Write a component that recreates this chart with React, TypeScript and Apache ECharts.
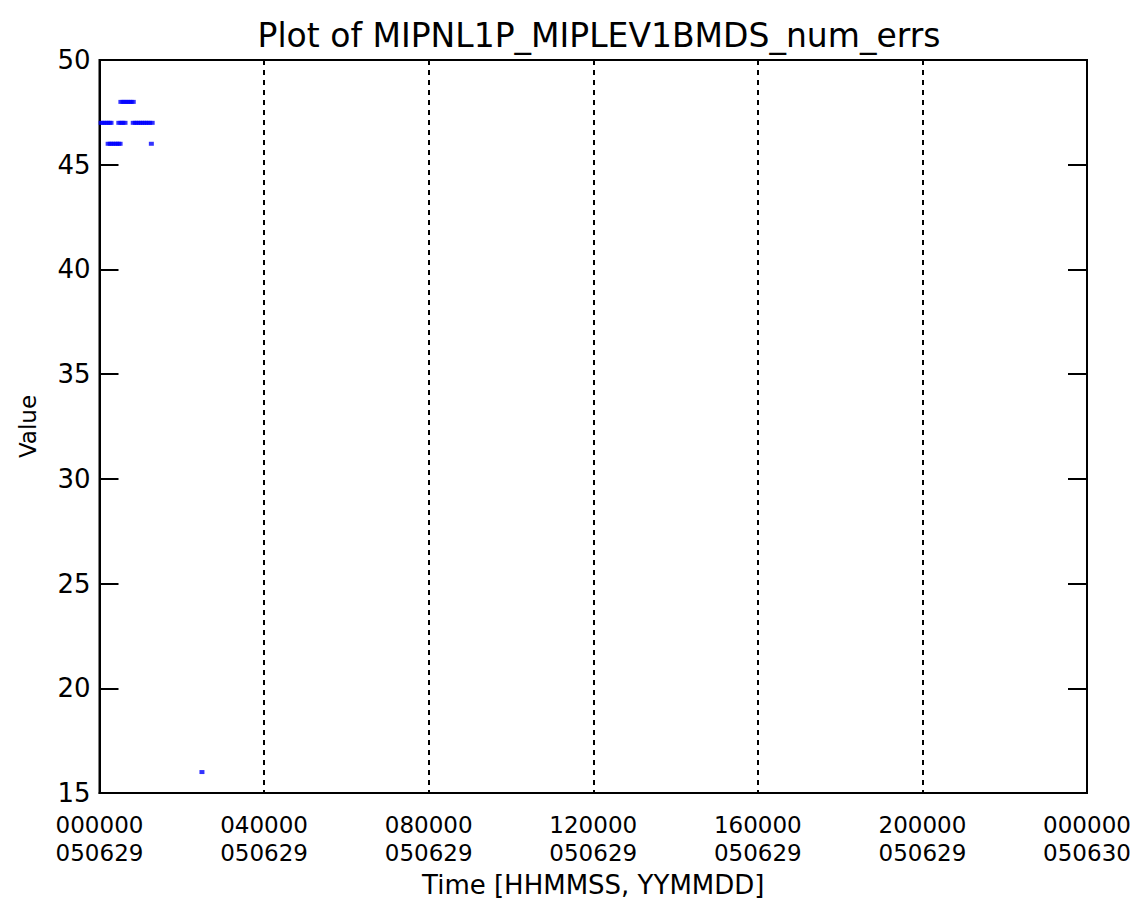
import React, { useEffect, useRef } from "react";
import * as echarts from "echarts";

const TITLE = "Plot of MIPNL1P_MIPLEV1BMDS_num_errs";
const X_NAME = "Time [HHMMSS, YYMMDD]";
const Y_NAME = "Value";
const X_TICK_LABELS = [
  "000000\n050629",
  "040000\n050629",
  "080000\n050629",
  "120000\n050629",
  "160000\n050629",
  "200000\n050629",
  "000000\n050630",
];
// hours since 000000 050629
const timesHours = [
  0.04, 0.09, 0.14, 0.19, 0.21, 0.24, 0.26, 0.28, 0.31, 0.36, 0.41, 0.46, 0.47, 0.5,
  0.52, 0.52, 0.57, 0.57, 0.62, 0.62, 0.67, 0.72, 0.77, 0.82, 0.82, 0.87, 0.92,
  0.97, 1.02, 1.07, 1.12, 1.17, 1.22, 1.26, 1.28, 2.49,
];
const values = [
  47, 47, 47, 47, 46, 47, 46, 47, 46, 46, 46, 46, 47, 46,
  47, 48, 47, 48, 47, 48, 48, 48, 48, 48, 47, 47, 47,
  47, 47, 47, 47, 47, 47, 46, 47, 16,
];

const FONT = "DejaVu Sans";

export default function App() {
  const ref = useRef<HTMLDivElement>(null);
  useEffect(() => {
    document.body.style.margin = "0";
    const chart = echarts.init(ref.current!, null, { renderer: "svg" });
    const data = timesHours.map((t, i) => [t, values[i]]);
    chart.setOption({
      animation: false,
      backgroundColor: "#fff",
      title: {
        text: TITLE,
        left: 594,
        top: 14,
        textAlign: "center",
        textStyle: { fontFamily: FONT, fontSize: 33, fontWeight: "normal", color: "#000" },
      },
      grid: {
        left: 99.5,
        right: 57,
        top: 60,
        bottom: 114,
        show: true,
        borderColor: "#000",
        borderWidth: 2,
        backgroundColor: "transparent",
      },
      xAxis: {
        type: "value",
        min: 0,
        max: 24,
        interval: 4,
        name: X_NAME,
        nameLocation: "middle",
        nameGap: 77,
        nameTextStyle: { fontFamily: FONT, fontSize: 26, color: "#000" },
        axisLine: { show: true, lineStyle: { color: "#000", width: 2 } },
        axisTick: { show: false },
        axisLabel: {
          fontFamily: FONT,
          fontSize: 23,
          color: "#000",
          lineHeight: 28,
          margin: 18,
          showMinLabel: true,
          showMaxLabel: true,
          formatter: (v: number) => X_TICK_LABELS[Math.round(v / 4)] ?? "",
        },
        splitLine: { show: true, lineStyle: { color: "#000", width: 2, type: [5, 5] } },
      },
      yAxis: [
        {
          type: "value",
          min: 15,
          max: 50,
          interval: 5,
          name: Y_NAME,
          nameLocation: "middle",
          nameGap: 60,
          nameTextStyle: { fontFamily: FONT, fontSize: 23, color: "#000" },
          axisLine: { show: true, lineStyle: { color: "#000", width: 2 } },
          axisTick: { show: true, inside: true, length: 19, lineStyle: { color: "#000", width: 2 } },
          axisLabel: { fontFamily: FONT, fontSize: 26, color: "#000", margin: 9 },
          splitLine: { show: false },
        },
        {
          type: "value",
          position: "right",
          min: 15,
          max: 50,
          interval: 5,
          axisLine: { show: true, lineStyle: { color: "#000", width: 2 } },
          axisTick: { show: true, inside: true, length: 19, lineStyle: { color: "#000", width: 2 } },
          axisLabel: { show: false },
          splitLine: { show: false },
        },
      ],
      series: [
        {
          type: "scatter",
          data,
          symbol: "rect",
          symbolSize: [5, 4],
          itemStyle: { color: "#0000ff" },
        },
      ],
    });
    return () => chart.dispose();
  }, []);
  return <div ref={ref} style={{ width: 1144, height: 907 }} />;
}
